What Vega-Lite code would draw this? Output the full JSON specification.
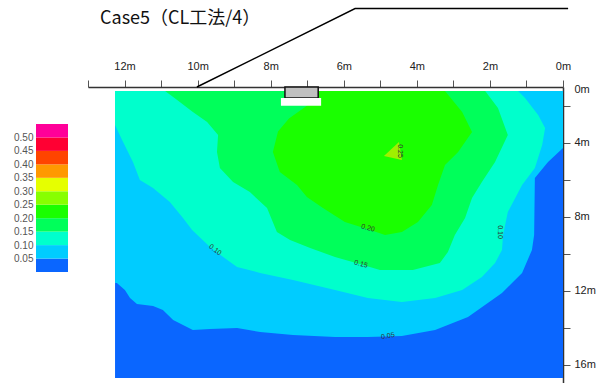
{
  "$schema": "https://vega.github.io/schema/vega-lite/v6.json",
  "background": "white",
  "padding": {"left": 13, "top": 5, "right": 0, "bottom": 0},
  "bounds": "flush",
  "spacing": 20,
  "config": {"view": {"stroke": null}, "font": "Liberation Sans"},
  "datasets": {
    "poly": [
      {"band": "b0", "i": 0, "x": 12.26, "d": 1.22},
      {"band": "b0", "i": 1, "x": 0, "d": 1.22},
      {"band": "b0", "i": 2, "x": 0, "d": 16.73},
      {"band": "b0", "i": 3, "x": 12.26, "d": 16.73},

      {"band": "b1", "i": 0, "x": 12.26, "d": 1.22},
      {"band": "b1", "i": 1, "x": 0, "d": 1.22},
      {"band": "b1", "i": 2, "x": 0, "d": 4.30},
      {"band": "b1", "i": 3, "x": 0.41, "d": 5.05},
      {"band": "b1", "i": 4, "x": 0.77, "d": 5.92},
      {"band": "b1", "i": 5, "x": 0.79, "d": 9.00},
      {"band": "b1", "i": 6, "x": 0.85, "d": 9.81},
      {"band": "b1", "i": 7, "x": 1.12, "d": 11.05},
      {"band": "b1", "i": 8, "x": 1.67, "d": 12.14},
      {"band": "b1", "i": 9, "x": 2.60, "d": 13.43},
      {"band": "b1", "i": 10, "x": 3.50, "d": 14.14},
      {"band": "b1", "i": 11, "x": 4.41, "d": 14.46},
      {"band": "b1", "i": 12, "x": 5.34, "d": 14.51},
      {"band": "b1", "i": 13, "x": 6.24, "d": 14.51},
      {"band": "b1", "i": 14, "x": 7.39, "d": 14.41},
      {"band": "b1", "i": 15, "x": 8.29, "d": 14.24},
      {"band": "b1", "i": 16, "x": 8.92, "d": 14.03},
      {"band": "b1", "i": 17, "x": 9.66, "d": 14.08},
      {"band": "b1", "i": 18, "x": 10.13, "d": 14.14},
      {"band": "b1", "i": 19, "x": 10.67, "d": 13.59},
      {"band": "b1", "i": 20, "x": 10.95, "d": 13.05},
      {"band": "b1", "i": 21, "x": 11.22, "d": 12.84},
      {"band": "b1", "i": 22, "x": 11.66, "d": 12.73},
      {"band": "b1", "i": 23, "x": 11.85, "d": 12.41},
      {"band": "b1", "i": 24, "x": 11.99, "d": 11.97},
      {"band": "b1", "i": 25, "x": 12.21, "d": 11.59},
      {"band": "b1", "i": 26, "x": 12.26, "d": 11.59},

      {"band": "b2", "i": 0, "x": 12.26, "d": 1.22},
      {"band": "b2", "i": 1, "x": 1.23, "d": 1.22},
      {"band": "b2", "i": 2, "x": 1.04, "d": 1.59},
      {"band": "b2", "i": 3, "x": 0.68, "d": 2.51},
      {"band": "b2", "i": 4, "x": 0.49, "d": 3.22},
      {"band": "b2", "i": 5, "x": 0.57, "d": 4.14},
      {"band": "b2", "i": 6, "x": 0.77, "d": 5.38},
      {"band": "b2", "i": 7, "x": 1.12, "d": 6.30},
      {"band": "b2", "i": 8, "x": 1.51, "d": 7.76},
      {"band": "b2", "i": 9, "x": 1.64, "d": 9.00},
      {"band": "b2", "i": 10, "x": 1.67, "d": 9.81},
      {"band": "b2", "i": 11, "x": 1.86, "d": 10.51},
      {"band": "b2", "i": 12, "x": 2.22, "d": 11.27},
      {"band": "b2", "i": 13, "x": 2.76, "d": 11.97},
      {"band": "b2", "i": 14, "x": 3.50, "d": 12.41},
      {"band": "b2", "i": 15, "x": 4.41, "d": 12.62},
      {"band": "b2", "i": 16, "x": 5.34, "d": 12.41},
      {"band": "b2", "i": 17, "x": 6.24, "d": 11.97},
      {"band": "b2", "i": 18, "x": 7.39, "d": 11.43},
      {"band": "b2", "i": 19, "x": 8.29, "d": 11.05},
      {"band": "b2", "i": 20, "x": 8.92, "d": 10.73},
      {"band": "b2", "i": 21, "x": 9.30, "d": 10.19},
      {"band": "b2", "i": 22, "x": 9.66, "d": 9.65},
      {"band": "b2", "i": 23, "x": 10.15, "d": 8.73},
      {"band": "b2", "i": 24, "x": 10.40, "d": 8.08},
      {"band": "b2", "i": 25, "x": 10.76, "d": 7.22},
      {"band": "b2", "i": 26, "x": 11.22, "d": 6.46},
      {"band": "b2", "i": 27, "x": 11.58, "d": 6.03},
      {"band": "b2", "i": 28, "x": 11.77, "d": 5.05},
      {"band": "b2", "i": 29, "x": 12.04, "d": 3.97},
      {"band": "b2", "i": 30, "x": 12.26, "d": 3.05},

      {"band": "b3", "i": 0, "x": 10.89, "d": 1.22},
      {"band": "b3", "i": 1, "x": 2.13, "d": 1.22},
      {"band": "b3", "i": 2, "x": 1.78, "d": 2.14},
      {"band": "b3", "i": 3, "x": 1.51, "d": 3.59},
      {"band": "b3", "i": 4, "x": 1.86, "d": 5.05},
      {"band": "b3", "i": 5, "x": 2.22, "d": 6.14},
      {"band": "b3", "i": 6, "x": 2.49, "d": 7.00},
      {"band": "b3", "i": 7, "x": 2.68, "d": 8.08},
      {"band": "b3", "i": 8, "x": 2.96, "d": 9.00},
      {"band": "b3", "i": 9, "x": 3.15, "d": 9.92},
      {"band": "b3", "i": 10, "x": 3.37, "d": 10.51},
      {"band": "b3", "i": 11, "x": 4.11, "d": 10.89},
      {"band": "b3", "i": 12, "x": 5.01, "d": 10.89},
      {"band": "b3", "i": 13, "x": 5.47, "d": 10.62},
      {"band": "b3", "i": 14, "x": 6.24, "d": 10.19},
      {"band": "b3", "i": 15, "x": 6.92, "d": 9.70},
      {"band": "b3", "i": 16, "x": 7.47, "d": 9.27},
      {"band": "b3", "i": 17, "x": 7.83, "d": 8.84},
      {"band": "b3", "i": 18, "x": 8.10, "d": 7.54},
      {"band": "b3", "i": 19, "x": 8.57, "d": 6.68},
      {"band": "b3", "i": 20, "x": 9.03, "d": 6.14},
      {"band": "b3", "i": 21, "x": 9.39, "d": 5.38},
      {"band": "b3", "i": 22, "x": 9.47, "d": 4.51},
      {"band": "b3", "i": 23, "x": 9.44, "d": 3.59},
      {"band": "b3", "i": 24, "x": 9.74, "d": 2.89},
      {"band": "b3", "i": 25, "x": 10.13, "d": 2.35},
      {"band": "b3", "i": 26, "x": 10.56, "d": 1.70},

      {"band": "b4", "i": 0, "x": 6.80, "d": 1.22},
      {"band": "b4", "i": 1, "x": 3.23, "d": 1.22},
      {"band": "b4", "i": 2, "x": 2.76, "d": 2.35},
      {"band": "b4", "i": 3, "x": 2.49, "d": 3.43},
      {"band": "b4", "i": 4, "x": 2.87, "d": 4.51},
      {"band": "b4", "i": 5, "x": 3.23, "d": 5.22},
      {"band": "b4", "i": 6, "x": 3.42, "d": 6.30},
      {"band": "b4", "i": 7, "x": 3.59, "d": 7.38},
      {"band": "b4", "i": 8, "x": 3.97, "d": 8.30},
      {"band": "b4", "i": 9, "x": 4.41, "d": 8.84},
      {"band": "b4", "i": 10, "x": 4.87, "d": 9.00},
      {"band": "b4", "i": 11, "x": 5.36, "d": 8.68},
      {"band": "b4", "i": 12, "x": 5.97, "d": 8.30},
      {"band": "b4", "i": 13, "x": 6.57, "d": 7.54},
      {"band": "b4", "i": 14, "x": 7.01, "d": 6.95},
      {"band": "b4", "i": 15, "x": 7.28, "d": 6.30},
      {"band": "b4", "i": 16, "x": 7.75, "d": 5.59},
      {"band": "b4", "i": 17, "x": 7.94, "d": 4.51},
      {"band": "b4", "i": 18, "x": 7.80, "d": 3.40},
      {"band": "b4", "i": 19, "x": 7.50, "d": 2.70},
      {"band": "b4", "i": 20, "x": 7.00, "d": 2.00},

      {"band": "b5", "i": 0, "x": 4.90, "d": 4.73},
      {"band": "b5", "i": 1, "x": 4.49, "d": 3.97},
      {"band": "b5", "i": 2, "x": 4.41, "d": 4.95}
    ],
    "slope": [
      {"i": 0, "x": 10.02, "d": 1.0},
      {"i": 1, "x": 5.69, "d": -3.24},
      {"i": 2, "x": -0.14, "d": -3.24}
    ],
    "scale": [
      {"lv": "c0", "lo": 0.00, "hi": 0.05},
      {"lv": "c1", "lo": 0.05, "hi": 0.10},
      {"lv": "c2", "lo": 0.10, "hi": 0.15},
      {"lv": "c3", "lo": 0.15, "hi": 0.20},
      {"lv": "c4", "lo": 0.20, "hi": 0.25},
      {"lv": "c5", "lo": 0.25, "hi": 0.30},
      {"lv": "c6", "lo": 0.30, "hi": 0.35},
      {"lv": "c7", "lo": 0.35, "hi": 0.40},
      {"lv": "c8", "lo": 0.40, "hi": 0.45},
      {"lv": "c9", "lo": 0.45, "hi": 0.50},
      {"lv": "c10", "lo": 0.50, "hi": 0.55}
    ]
  },
  "hconcat": [
    {
      "width": 32,
      "height": 296,
      "data": {"name": "scale"},
      "mark": {"type": "rect"},
      "encoding": {
        "y": {
          "field": "lo",
          "type": "quantitative",
          "scale": {"domain": [-0.4125, 0.6875], "nice": false, "zero": false},
          "axis": {
            "values": [0.05, 0.1, 0.15, 0.2, 0.25, 0.3, 0.35, 0.4, 0.45, 0.5],
            "format": ".2f",
            "domain": false,
            "ticks": false,
            "grid": false,
            "title": null,
            "labelFontSize": 10,
            "labelColor": "#555",
            "labelPadding": 3,
            "labelOverlap": false
          }
        },
        "y2": {"field": "hi"},
        "fill": {
          "field": "lv",
          "type": "nominal",
          "legend": null,
          "scale": {
            "domain": ["c0", "c1", "c2", "c3", "c4", "c5", "c6", "c7", "c8", "c9", "c10"],
            "range": ["#0a66ff", "#00ccff", "#00ffcc", "#00ff5a", "#1aff00", "#88ff00", "#e6ff00", "#ff9900", "#ff4400", "#ff0033", "#ff0099"]
          }
        }
      }
    },
    {
      "width": 475,
      "height": 296,
      "encoding": {
        "x": {
          "field": "x",
          "type": "quantitative",
          "scale": {"domain": [0, 13], "reverse": true, "nice": false, "zero": false},
          "axis": {
            "orient": "top",
            "values": [0, 1, 2, 3, 4, 5, 6, 7, 8, 9, 10, 11, 12, 13],
            "labelExpr": "datum.value % 2 == 0 ? datum.value + 'm' : ''",
            "tickSize": 7,
            "tickColor": "#555",
            "domainColor": "#333",
            "domainWidth": 1.5,
            "labelFontSize": 11,
            "labelColor": "#222",
            "labelPadding": 9,
            "labelFlush": false,
            "labelOverlap": false,
            "grid": false,
            "title": null
          }
        },
        "y": {
          "field": "d",
          "type": "quantitative",
          "scale": {"domain": [1, 17], "reverse": true, "nice": false, "zero": false},
          "axis": {
            "orient": "right",
            "values": [1.16, 2, 4, 6, 8, 10, 12, 14, 16],
            "labelExpr": "datum.value < 1.5 ? '0m' : (datum.value % 4 == 0 ? datum.value + 'm' : '')",
            "tickOpacity": {"condition": {"test": "datum.value < 1.5", "value": 0}, "value": 1},
            "tickSize": 7,
            "tickColor": "#555",
            "domainColor": "#333",
            "domainWidth": 1.5,
            "labelFontSize": 11,
            "labelColor": "#222",
            "labelPadding": 4,
            "labelFlush": false,
            "labelOverlap": false,
            "grid": false,
            "title": null
          }
        }
      },
      "layer": [
        {
          "data": {"name": "poly"},
          "transform": [{"filter": "datum.band == 'b0'"}],
          "mark": {"type": "line", "filled": true, "color": "#0a66ff", "interpolate": "linear-closed"},
          "encoding": {"order": {"field": "i", "type": "quantitative"}}
        },
        {
          "data": {"name": "poly"},
          "transform": [{"filter": "datum.band == 'b1'"}],
          "mark": {"type": "line", "filled": true, "color": "#00ccff", "interpolate": "linear-closed"},
          "encoding": {"order": {"field": "i", "type": "quantitative"}}
        },
        {
          "data": {"name": "poly"},
          "transform": [{"filter": "datum.band == 'b2'"}],
          "mark": {"type": "line", "filled": true, "color": "#00ffcc", "interpolate": "linear-closed"},
          "encoding": {"order": {"field": "i", "type": "quantitative"}}
        },
        {
          "data": {"name": "poly"},
          "transform": [{"filter": "datum.band == 'b3'"}],
          "mark": {"type": "line", "filled": true, "color": "#00ff5a", "interpolate": "linear-closed"},
          "encoding": {"order": {"field": "i", "type": "quantitative"}}
        },
        {
          "data": {"name": "poly"},
          "transform": [{"filter": "datum.band == 'b4'"}],
          "mark": {"type": "line", "filled": true, "color": "#1aff00", "interpolate": "linear-closed"},
          "encoding": {"order": {"field": "i", "type": "quantitative"}}
        },
        {
          "data": {"name": "poly"},
          "transform": [{"filter": "datum.band == 'b5'"}],
          "mark": {"type": "line", "filled": true, "color": "#a0f000", "interpolate": "linear-closed"},
          "encoding": {"order": {"field": "i", "type": "quantitative"}}
        },
        {
          "data": {"values": [
            {"x": 4.46, "d": 4.46, "t": "0.25"},
            {"x": 1.72, "d": 8.84, "t": "0.10"}
          ]},
          "mark": {"type": "text", "angle": 90, "fontSize": 7, "color": "#333"},
          "encoding": {"text": {"field": "t"}}
        },
        {
          "data": {"values": [{"x": 9.52, "d": 9.81, "t": "0.10"}]},
          "mark": {"type": "text", "angle": 38, "fontSize": 7, "color": "#333"},
          "encoding": {"text": {"field": "t"}}
        },
        {
          "data": {"values": [
            {"x": 5.34, "d": 8.62, "t": "0.20"},
            {"x": 5.53, "d": 10.57, "t": "0.15"}
          ]},
          "mark": {"type": "text", "angle": 15, "fontSize": 7, "color": "#333"},
          "encoding": {"text": {"field": "t"}}
        },
        {
          "data": {"values": [{"x": 4.79, "d": 14.46, "t": "0.05"}]},
          "mark": {"type": "text", "angle": -10, "fontSize": 7, "color": "#333"},
          "encoding": {"text": {"field": "t"}}
        },
        {
          "data": {"values": [{"x": 7.61, "x2": 6.70, "d": 1.0, "d2": 1.59}]},
          "mark": {"type": "rect", "fill": "#c0c0c0", "stroke": "#111", "strokeWidth": 1.5},
          "encoding": {"x2": {"field": "x2"}, "y2": {"field": "d2"}}
        },
        {
          "data": {"values": [{"x": 7.72, "x2": 6.62, "d": 1.59, "d2": 2.02}]},
          "mark": {"type": "rect", "fill": "white"},
          "encoding": {"x2": {"field": "x2"}, "y2": {"field": "d2"}}
        },
        {
          "data": {"name": "slope"},
          "mark": {"type": "line", "color": "#000", "strokeWidth": 1.4},
          "encoding": {"order": {"field": "i", "type": "quantitative"}}
        },
        {
          "data": {"values": [{"x": 12.67, "d": -2.7, "t": "Case5（CL工法/4）"}]},
          "mark": {"type": "text", "align": "left", "baseline": "middle", "fontSize": 18, "font": "Noto Sans CJK JP", "color": "#111"},
          "encoding": {"text": {"field": "t"}}
        }
      ]
    }
  ]
}
